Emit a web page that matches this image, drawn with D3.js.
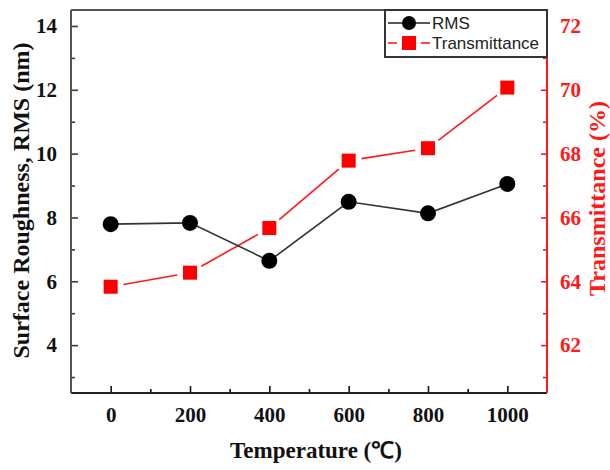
<!DOCTYPE html>
<html>
<head>
<meta charset="utf-8">
<script src="https://cdn.jsdelivr.net/npm/d3@7"></script>
<style>
  html, body { margin: 0; padding: 0; background: #fff; }
  svg { display: block; }
</style>
</head>
<body>
<svg id="chart" width="610" height="470"></svg>
<script>
// Annealing temperature series
const temperatures = [0, 200, 400, 600, 800, 1000];
const rmsValues = [7.79, 7.83, 6.64, 8.49, 8.13, 9.05];
const transmittanceValues = [63.83, 64.27, 65.67, 67.78, 68.17, 70.07];

const xTicks = [0, 200, 400, 600, 800, 1000];
const leftTicks = [4, 6, 8, 10, 12, 14];
const rightTicks = [62, 64, 66, 68, 70, 72];
const legendLabels = ["RMS", "Transmittance"];

const W = 610, H = 470;
const margin = { left: 71, right: 63, top: 10, bottom: 77 };
const plotL = margin.left, plotR = W - margin.right;
const plotT = margin.top, plotB = H - margin.bottom;

const RED = "#ff1a1a";
const DARK = "#3a3a3a";
const serif = "'Liberation Serif', 'Times New Roman', serif";

const svg = d3.select("#chart");

const x = d3.scaleLinear().domain([-100, 1100]).range([plotL, plotR]);
const yL = d3.scaleLinear().domain([2.5, 14.5]).range([plotB, plotT]);
const yR = d3.scaleLinear().domain([60.5, 72.5]).range([plotB, plotT]);

// Minor tick helpers
const xMinor = d3.range(-100, 1101, 100).filter(v => !xTicks.includes(v) && v > -100 && v < 1100);
const lMinor = d3.range(3, 14.01, 1).filter(v => !leftTicks.includes(v));
const rMinor = d3.range(61, 72.01, 1).filter(v => !rightTicks.includes(v));

function styleAxis(g, color) {
  g.select(".domain").remove();
  g.selectAll(".tick line").attr("stroke", color).attr("stroke-width", 1.6);
  g.selectAll(".tick text")
    .style("fill", color)
    .style("font-family", serif)
    .style("font-weight", "bold")
    .style("font-size", "21px");
}

// Bottom axis (ticks point inward)
const gx = svg.append("g").attr("transform", `translate(0,${plotB})`)
  .call(d3.axisBottom(x).tickValues(xTicks).tickFormat(d3.format("d")).tickSizeInner(-7).tickSizeOuter(0).tickPadding(14));
styleAxis(gx, "#111");
svg.append("g").attr("transform", `translate(0,${plotB})`)
  .call(d3.axisBottom(x).tickValues(xMinor).tickFormat("").tickSizeInner(-4).tickSizeOuter(0))
  .call(g => { g.select(".domain").remove(); g.selectAll("line").attr("stroke", "#111").attr("stroke-width", 1.6); });

// Left axis
const gl = svg.append("g").attr("transform", `translate(${plotL},0)`)
  .call(d3.axisLeft(yL).tickValues(leftTicks).tickSizeInner(-7).tickSizeOuter(0).tickPadding(14));
styleAxis(gl, "#111");
gl.selectAll(".tick line").attr("stroke", DARK);
svg.append("g").attr("transform", `translate(${plotL},0)`)
  .call(d3.axisLeft(yL).tickValues(lMinor).tickFormat("").tickSizeInner(-4).tickSizeOuter(0))
  .call(g => { g.select(".domain").remove(); g.selectAll("line").attr("stroke", DARK).attr("stroke-width", 1.6); });

// Right axis
const gr = svg.append("g").attr("transform", `translate(${plotR},0)`)
  .call(d3.axisRight(yR).tickValues(rightTicks).tickSizeInner(-6).tickSizeOuter(0).tickPadding(13));
styleAxis(gr, RED);
svg.append("g").attr("transform", `translate(${plotR},0)`)
  .call(d3.axisRight(yR).tickValues(rMinor).tickFormat("").tickSizeInner(-4).tickSizeOuter(0))
  .call(g => { g.select(".domain").remove(); g.selectAll("line").attr("stroke", RED).attr("stroke-width", 1.6); });

// Frame
svg.append("line").attr("x1", plotL).attr("x2", plotR).attr("y1", plotT).attr("y2", plotT)
  .attr("stroke", "#555").attr("stroke-width", 2);
svg.append("line").attr("x1", plotL).attr("x2", plotR).attr("y1", plotB).attr("y2", plotB)
  .attr("stroke", "#222").attr("stroke-width", 2);
svg.append("line").attr("x1", plotL).attr("x2", plotL).attr("y1", plotT).attr("y2", plotB)
  .attr("stroke", "#555").attr("stroke-width", 2);
svg.append("line").attr("x1", plotR).attr("x2", plotR).attr("y1", plotT).attr("y2", plotB)
  .attr("stroke", RED).attr("stroke-width", 2);

// Transmittance: red segments with a small gap around each square
const tPts = temperatures.map((t, i) => [x(t), yR(transmittanceValues[i])]);
const gap = 13;
const segs = d3.pairs(tPts).map(([a, b]) => {
  const dx = b[0] - a[0], dy = b[1] - a[1], len = Math.hypot(dx, dy);
  const ux = dx / len, uy = dy / len;
  return [a[0] + ux * gap, a[1] + uy * gap, b[0] - ux * gap, b[1] - uy * gap];
});
svg.append("g").selectAll("line").data(segs).join("line")
  .attr("x1", d => d[0]).attr("y1", d => d[1]).attr("x2", d => d[2]).attr("y2", d => d[3])
  .attr("stroke", RED).attr("stroke-width", 1.6);

// RMS line
svg.append("path")
  .datum(temperatures.map((t, i) => [t, rmsValues[i]]))
  .attr("fill", "none").attr("stroke", "#333").attr("stroke-width", 1.6)
  .attr("d", d3.line().x(d => x(d[0])).y(d => yL(d[1])));

// Markers
const sq = 14;
svg.append("g").selectAll("rect").data(tPts).join("rect")
  .attr("x", d => d[0] - sq / 2).attr("y", d => d[1] - sq / 2)
  .attr("width", sq).attr("height", sq).attr("fill", "#ff0000");
svg.append("g").selectAll("circle").data(temperatures).join("circle")
  .attr("cx", d => x(d)).attr("cy", (d, i) => yL(rmsValues[i]))
  .attr("r", 8).attr("fill", "#000");

// Axis titles
svg.append("text")
  .attr("transform", `translate(${21},${(plotT + plotB) / 2 - 1}) rotate(-90)`)
  .attr("text-anchor", "middle").attr("dominant-baseline", "central")
  .attr("font-family", serif).attr("font-weight", "bold").attr("font-size", 24)
  .attr("fill", "#111")
  .text("Surface Roughness, RMS (nm)");
svg.append("text")
  .attr("transform", `translate(${597},${(plotT + plotB) / 2 - 3}) rotate(-90)`)
  .attr("text-anchor", "middle").attr("dominant-baseline", "central")
  .attr("font-family", serif).attr("font-weight", "bold").attr("font-size", 24)
  .attr("fill", RED)
  .text("Transmittance (%)");
svg.append("text")
  .attr("x", (plotL + plotR) / 2 + 7).attr("y", 458)
  .attr("text-anchor", "middle")
  .attr("font-family", serif).attr("font-weight", "bold").attr("font-size", 23)
  .attr("fill", "#111")
  .text("Temperature (℃)");

// Legend
const lg = svg.append("g");
const lgX = 385, lgY = plotT, lgW = plotR - 385, lgH = 47;
lg.append("rect").attr("x", lgX).attr("y", lgY).attr("width", lgW).attr("height", lgH)
  .attr("fill", "#fff").attr("stroke", "#333").attr("stroke-width", 2);
const rowY = [lgY + 13, lgY + 33];
// RMS row
lg.append("line").attr("x1", lgX + 3).attr("x2", lgX + 45).attr("y1", rowY[0]).attr("y2", rowY[0])
  .attr("stroke", "#222").attr("stroke-width", 1.6);
lg.append("circle").attr("cx", lgX + 24).attr("cy", rowY[0]).attr("r", 7).attr("fill", "#000");
// Transmittance row
lg.append("line").attr("x1", lgX + 3).attr("x2", lgX + 12).attr("y1", rowY[1]).attr("y2", rowY[1])
  .attr("stroke", RED).attr("stroke-width", 1.6);
lg.append("line").attr("x1", lgX + 36).attr("x2", lgX + 45).attr("y1", rowY[1]).attr("y2", rowY[1])
  .attr("stroke", RED).attr("stroke-width", 1.6);
lg.append("rect").attr("x", lgX + 24 - 7).attr("y", rowY[1] - 7).attr("width", 14).attr("height", 14)
  .attr("fill", "#ff0000");
lg.selectAll("text.lbl").data(legendLabels).join("text")
  .attr("class", "lbl")
  .attr("x", lgX + 47).attr("y", (d, i) => rowY[i])
  .attr("dominant-baseline", "central")
  .attr("font-family", "'Liberation Sans', Arial, sans-serif").attr("font-size", 17)
  .attr("fill", "#222")
  .text(d => d);
</script>
</body>
</html>
